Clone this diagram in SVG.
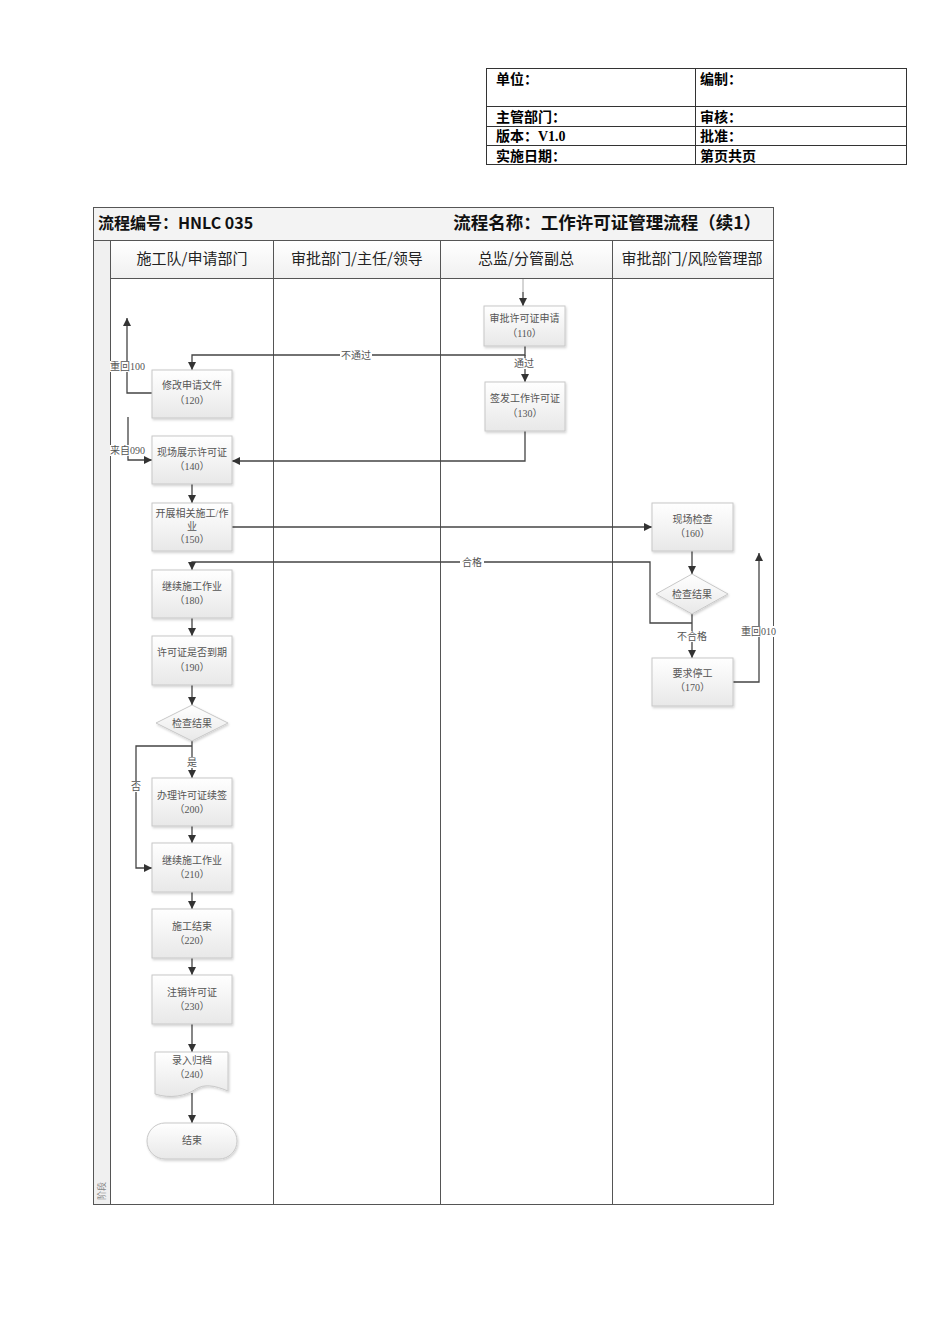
<svg xmlns="http://www.w3.org/2000/svg" width="950" height="1344" viewBox="0 0 950 1344">
<style>
.tbl{fill:none;stroke:#333;stroke-width:1}
.tt{font-family:"Liberation Serif","Noto Sans CJK SC",serif;font-size:14px;font-weight:bold;fill:#000}
.frame{fill:none;stroke:#555;stroke-width:1}
.lane{stroke:#555;stroke-width:1}
.title{font-family:"Noto Sans CJK SC","Liberation Sans",sans-serif;font-size:16px;font-weight:bold;fill:#111}
.title2{font-family:"Noto Sans CJK SC","Liberation Sans",sans-serif;font-size:17.5px;font-weight:bold;fill:#111;text-anchor:end}
.hdr{font-family:"Noto Sans CJK SC","Liberation Sans",sans-serif;font-size:15px;fill:#222;text-anchor:middle}
.box{fill:url(#g);stroke:#c8c8c8;stroke-width:1;filter:url(#sh)}
.nt{font-family:"Liberation Serif","Noto Sans CJK SC",serif;font-size:10px;fill:#555;text-anchor:middle}
.conn{fill:none;stroke:#444;stroke-width:1.3}
.lbl{font-family:"Liberation Serif","Noto Sans CJK SC",serif;font-size:10px;fill:#555}
</style>
<defs>
<linearGradient id="g" x1="0" y1="0" x2="0" y2="1">
<stop offset="0" stop-color="#ffffff"/>
<stop offset="1" stop-color="#e8e8e8"/>
</linearGradient>
<linearGradient id="hg" x1="0" y1="0" x2="0" y2="1">
<stop offset="0" stop-color="#ffffff"/>
<stop offset="1" stop-color="#f0f0f0"/>
</linearGradient>
<filter id="sh" x="-10%" y="-10%" width="130%" height="130%">
<feDropShadow dx="1" dy="1.5" stdDeviation="1" flood-color="#000" flood-opacity="0.18"/>
</filter>
<marker id="ar" viewBox="0 0 10 10" refX="10" refY="5" markerWidth="8" markerHeight="8" markerUnits="userSpaceOnUse" orient="auto">
<path d="M0,0 L10,5 L0,10 Z" fill="#333"/>
</marker>
</defs>

<g id="info-table">
<rect class="tbl" x="486.5" y="68.5" width="420" height="96"/>
<line class="tbl" x1="695.5" y1="68" x2="695.5" y2="164"/>
<line class="tbl" x1="486" y1="106.5" x2="906" y2="106.5"/>
<line class="tbl" x1="486" y1="126.5" x2="906" y2="126.5"/>
<line class="tbl" x1="486" y1="145.5" x2="906" y2="145.5"/>
<text class="tt" x="496" y="84">单位：</text>
<text class="tt" x="700" y="84">编制：</text>
<text class="tt" x="496" y="122">主管部门：</text>
<text class="tt" x="700" y="122">审核：</text>
<text class="tt" x="496" y="141">版本：V1.0</text>
<text class="tt" x="700" y="141">批准：</text>
<text class="tt" x="496" y="161">实施日期：</text>
<text class="tt" x="700" y="161">第页共页</text>
</g>

<g id="swimlane-frame">
<rect x="93.5" y="207.5" width="680" height="33" fill="#f3f3f3" stroke="none"/>
<rect x="110.5" y="240.5" width="663" height="38" fill="url(#hg)" stroke="none"/>
<rect x="93.5" y="240.5" width="17" height="964" fill="#f0f0f0" stroke="none"/>
<rect class="frame" x="93.5" y="207.5" width="680" height="997"/>
<line class="lane" x1="93" y1="240.5" x2="773" y2="240.5"/>
<line class="lane" x1="110" y1="278.5" x2="773" y2="278.5"/>
<line class="lane" x1="110.5" y1="240" x2="110.5" y2="1204"/>
<line class="lane" x1="273.5" y1="240" x2="273.5" y2="1204"/>
<line class="lane" x1="440.5" y1="240" x2="440.5" y2="1204"/>
<line class="lane" x1="612.5" y1="240" x2="612.5" y2="1204"/>
<text class="title" x="98" y="229">流程编号：HNLC 035</text>
<text class="title2" x="761" y="229">流程名称：工作许可证管理流程（续1）</text>
<text class="hdr" x="192" y="264">施工队/申请部门</text>
<text class="hdr" x="357" y="264">审批部门/主任/领导</text>
<text class="hdr" x="526" y="264">总监/分管副总</text>
<text class="hdr" x="692" y="264">审批部门/风险管理部</text>
<text font-family="Noto Sans CJK SC,sans-serif" font-size="9" fill="#888" transform="translate(105,1200) rotate(-90)">阶段</text>
</g>

<g id="connectors">
<line x1="523" y1="279" x2="523" y2="292" stroke="#aaa" stroke-width="1"/>
<path class="conn" d="M523,292 V306" marker-end="url(#ar)"/>
<path class="conn" d="M525,346 V355 H192 V370" marker-end="url(#ar)"/>
<path class="conn" d="M525,355 V382" marker-end="url(#ar)"/>
<path class="conn" d="M525,431 V461 H232" marker-end="url(#ar)"/>
<path class="conn" d="M152,393 H127 V318" marker-end="url(#ar)"/>
<path class="conn" d="M128,417 V460 H152" marker-end="url(#ar)"/>
<path class="conn" d="M192,484 V503" marker-end="url(#ar)"/>
<path class="conn" d="M232,527 H652" marker-end="url(#ar)"/>
<path class="conn" d="M692,551 V574" marker-end="url(#ar)"/>
<path class="conn" d="M692,614 V658" marker-end="url(#ar)"/>
<path class="conn" d="M692,623 H650 V562 H192 V570" marker-end="url(#ar)"/>
<path class="conn" d="M733,682 H759 V553" marker-end="url(#ar)"/>
<path class="conn" d="M192,618 V636" marker-end="url(#ar)"/>
<path class="conn" d="M192,685 V705" marker-end="url(#ar)"/>
<path class="conn" d="M192,741 V778" marker-end="url(#ar)"/>
<path class="conn" d="M192,746 H136 V868 H152" marker-end="url(#ar)"/>
<path class="conn" d="M192,826 V843" marker-end="url(#ar)"/>
<path class="conn" d="M192,892 V909" marker-end="url(#ar)"/>
<path class="conn" d="M192,958 V975" marker-end="url(#ar)"/>
<path class="conn" d="M192,1024 V1052" marker-end="url(#ar)"/>
<path class="conn" d="M192,1093 V1123" marker-end="url(#ar)"/>
<rect x="340" y="350" width="32" height="11" fill="#fff"/>
<text class="lbl" x="356" y="359" text-anchor="middle">不通过</text>
<rect x="513" y="358" width="22" height="11" fill="#fff"/>
<text class="lbl" x="524" y="367" text-anchor="middle">通过</text>
<rect x="460" y="557" width="24" height="11" fill="#fff"/>
<text class="lbl" x="472" y="566" text-anchor="middle">合格</text>
<rect x="676" y="631" width="32" height="11" fill="#fff"/>
<text class="lbl" x="692" y="640" text-anchor="middle">不合格</text>
<rect x="186" y="757" width="12" height="11" fill="#fff"/>
<text class="lbl" x="192" y="766" text-anchor="middle">是</text>
<rect x="130" y="781" width="12" height="11" fill="#fff"/>
<text class="lbl" x="136" y="790" text-anchor="middle">否</text>
<rect x="110" y="361" width="38" height="11" fill="#fff"/>
<text class="lbl" x="110" y="370">重回100</text>
<rect x="110" y="445" width="38" height="11" fill="#fff"/>
<text class="lbl" x="110" y="454">来自090</text>
<rect x="741" y="626" width="38" height="11" fill="#fff"/>
<text class="lbl" x="741" y="635">重回010</text>
</g>

<g id="n110"><rect class="box" x="484" y="306" width="81" height="40"/>
<text class="nt" x="524.5" y="322">审批许可证申请</text><text class="nt" x="524.5" y="337">（110）</text></g>
<g id="n130"><rect class="box" x="485" y="382" width="80" height="49"/>
<text class="nt" x="525" y="402">签发工作许可证</text><text class="nt" x="525" y="417">（130）</text></g>
<g id="n120"><rect class="box" x="152" y="370" width="80" height="48"/>
<text class="nt" x="192" y="389">修改申请文件</text><text class="nt" x="192" y="404">（120）</text></g>
<g id="n140"><rect class="box" x="152" y="436" width="80" height="48"/>
<text class="nt" x="192" y="456">现场展示许可证</text><text class="nt" x="192" y="470">（140）</text></g>
<g id="n150"><rect class="box" x="152" y="503" width="80" height="48"/>
<text class="nt" x="192" y="517">开展相关施工/作</text><text class="nt" x="192" y="530">业</text><text class="nt" x="192" y="543">（150）</text></g>
<g id="n180"><rect class="box" x="152" y="570" width="80" height="48"/>
<text class="nt" x="192" y="590">继续施工作业</text><text class="nt" x="192" y="604">（180）</text></g>
<g id="n190"><rect class="box" x="152" y="636" width="80" height="49"/>
<text class="nt" x="192" y="656">许可证是否到期</text><text class="nt" x="192" y="671">（190）</text></g>
<g id="d1"><path class="box" d="M192,705 L228,723 L192,741 L156,723 Z"/>
<text class="nt" x="192" y="727">检查结果</text></g>
<g id="n200"><rect class="box" x="152" y="778" width="80" height="48"/>
<text class="nt" x="192" y="799">办理许可证续签</text><text class="nt" x="192" y="813">（200）</text></g>
<g id="n210"><rect class="box" x="152" y="843" width="80" height="49"/>
<text class="nt" x="192" y="864">继续施工作业</text><text class="nt" x="192" y="878">（210）</text></g>
<g id="n220"><rect class="box" x="152" y="909" width="80" height="49"/>
<text class="nt" x="192" y="930">施工结束</text><text class="nt" x="192" y="944">（220）</text></g>
<g id="n230"><rect class="box" x="152" y="975" width="80" height="49"/>
<text class="nt" x="192" y="996">注销许可证</text><text class="nt" x="192" y="1010">（230）</text></g>
<g id="n240"><path class="box" d="M155,1052 H228 V1091 C214,1085 204,1084 196,1089 C186,1096 170,1099 155,1094 Z"/>
<text class="nt" x="192" y="1064">录入归档</text><text class="nt" x="192" y="1078">（240）</text></g>
<g id="end"><rect class="box" x="147" y="1123" width="90" height="36" rx="18"/>
<text class="nt" x="192" y="1144">结束</text></g>
<g id="n160"><rect class="box" x="652" y="503" width="81" height="48"/>
<text class="nt" x="692.5" y="523">现场检查</text><text class="nt" x="692.5" y="537">（160）</text></g>
<g id="d2"><path class="box" d="M692,574 L728,594 L692,614 L656,594 Z"/>
<text class="nt" x="692" y="598">检查结果</text></g>
<g id="n170"><rect class="box" x="652" y="658" width="81" height="48"/>
<text class="nt" x="692.5" y="677">要求停工</text><text class="nt" x="692.5" y="691">（170）</text></g>
</svg>
